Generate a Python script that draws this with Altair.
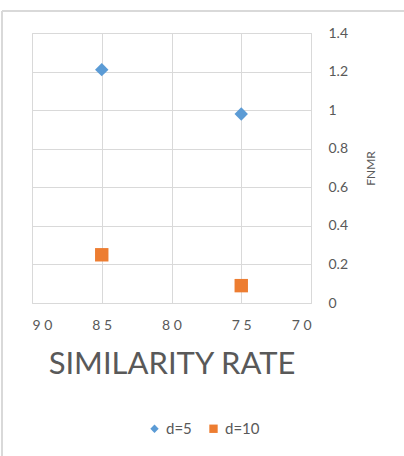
import altair as alt
import pandas as pd

# Similarity rate vs. false non-match rate for two distance settings
series = ["d=5", "d=5", "d=10", "d=10"]
similarity = [85, 75, 85, 75]
fnmr = [1.21, 0.98, 0.25, 0.09]

x_ticks = [90, 85, 80, 75, 70]
y_ticks = [0, 0.2, 0.4, 0.6, 0.8, 1.0, 1.2, 1.4]

df = pd.DataFrame({"series": series, "similarity": similarity, "fnmr": fnmr})

FONT = "Lato"
TEXT = "#595959"
GRID = "#d9d9d9"

points = alt.Chart(df).mark_point(filled=True, opacity=1, size=180).encode(
    x=alt.X(
        "similarity:Q",
        scale=alt.Scale(domain=[70, 90], reverse=True, nice=False),
        axis=alt.Axis(
            values=x_ticks,
            title="SIMILARITY RATE",
            titleFontSize=31,
            titleFontWeight="normal",
            titleColor=TEXT,
            titleFont=FONT,
            titlePadding=17,
            labelExpr="slice(datum.label, 0, 1) + ' ' + slice(datum.label, 1)",
            labelFontSize=14,
            labelColor=TEXT,
            labelFont=FONT,
            labelPadding=15,
            ticks=False,
            domain=False,
            gridColor=GRID,
        ),
    ),
    y=alt.Y(
        "fnmr:Q",
        scale=alt.Scale(domain=[0, 1.4], nice=False),
        axis=alt.Axis(
            orient="right",
            values=y_ticks,
            format=".1~f",
            title="FNMR",
            titleAngle=270,
            titleFontSize=12,
            titleFontWeight="normal",
            titleColor=TEXT,
            titleFont=FONT,
            titlePadding=30,
            labelFontSize=14,
            labelColor=TEXT,
            labelFont=FONT,
            labelPadding=17,
            ticks=False,
            domain=False,
            gridColor=GRID,
        ),
    ),
    color=alt.Color(
        "series:N",
        scale=alt.Scale(domain=["d=5", "d=10"], range=["#5b9bd5", "#ed7d31"]),
        legend=alt.Legend(
            title=None,
            orient="none",
            direction="horizontal",
            legendX=115,
            legendY=388,
            labelFontSize=15,
            labelColor=TEXT,
            labelFont=FONT,
            symbolSize=70,
            symbolOpacity=1,
            columnPadding=14,
        ),
    ),
    shape=alt.Shape(
        "series:N",
        scale=alt.Scale(domain=["d=5", "d=10"], range=["diamond", "square"]),
    ),
)

# outer chart frame: top and left edges of the chart box
frame_src = pd.DataFrame({"k": [0]})
frame_top = alt.Chart(frame_src).mark_rule(stroke=GRID, strokeWidth=2).encode(
    x=alt.value(-30), x2=alt.value(400), y=alt.value(-22)
)
frame_left = alt.Chart(frame_src).mark_rule(stroke=GRID, strokeWidth=2).encode(
    x=alt.value(-30), y=alt.value(-22), y2=alt.value(450)
)

chart = (
    alt.layer(frame_top, frame_left, points)
    .properties(
        width=279,
        height=270,
        autosize=alt.AutoSizeParams(type="none"),
        padding={"left": 32, "top": 33, "right": 93, "bottom": 153},
        background="white",
    )
    .configure_view(stroke=GRID)
)

chart.save("out.html", embed_options={"renderer": "svg", "actions": False})
